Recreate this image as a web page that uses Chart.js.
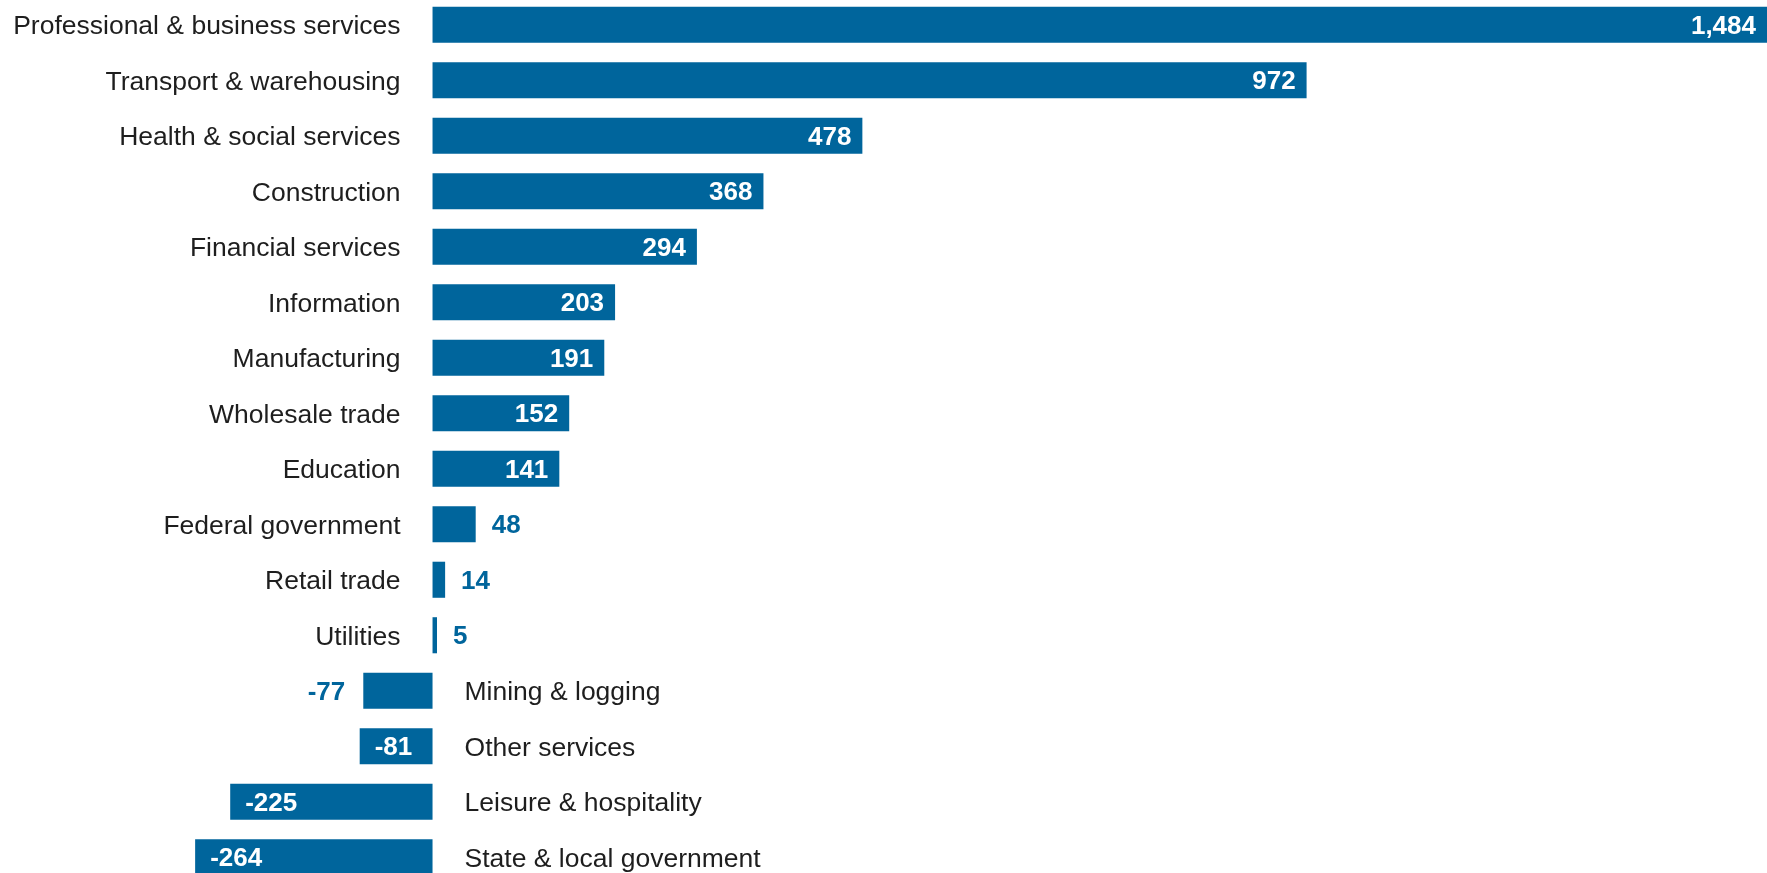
<!DOCTYPE html>
<html>
<head>
<meta charset="utf-8">
<script src="https://cdn.jsdelivr.net/npm/chart.js@4/dist/chart.umd.min.js"></script>
<style>
  html, body { margin: 0; padding: 0; background: #fff; overflow: hidden; }
  #wrap { position: absolute; left: 0; top: -3px; width: 1767px; height: 888px; }
</style>
</head>
<body>
<div id="wrap"><canvas id="jobsChart"></canvas></div>
<script>
const industries = [
  "Professional & business services", "Transport & warehousing", "Health & social services",
  "Construction", "Financial services", "Information", "Manufacturing", "Wholesale trade",
  "Education", "Federal government", "Retail trade", "Utilities", "Mining & logging",
  "Other services", "Leisure & hospitality", "State & local government"
];
const jobChange = [1484, 972, 478, 368, 294, 203, 191, 152, 141, 48, 14, 5, -77, -81, -225, -264];

const BLUE = "#00659c";
const FONT = "'Liberation Sans', Arial, sans-serif";

// names sit beside the zero line, value labels inside or outside the bar end
const barLabels = {
  id: "barLabels",
  afterDatasetsDraw(chart) {
    const ctx = chart.ctx;
    const meta = chart.getDatasetMeta(0);
    const zeroX = chart.scales.x.getPixelForValue(0);
    ctx.save();
    ctx.textBaseline = "middle";
    meta.data.forEach((bar, i) => {
      const v = jobChange[i];
      const y = bar.y + 2;
      // category name
      ctx.font = "26.5px " + FONT;
      ctx.fillStyle = "#1e1e1e";
      if (v >= 0) {
        ctx.textAlign = "right";
        ctx.fillText(industries[i], zeroX - 32, y);
      } else {
        ctx.textAlign = "left";
        ctx.fillText(industries[i], zeroX + 32, y);
      }
      // value
      const txt = v.toLocaleString("en-US");
      const inside = Math.abs(v) >= 80;
      ctx.font = "bold 26px " + FONT;
      ctx.fillStyle = inside ? "#ffffff" : BLUE;
      if (v >= 0) {
        if (inside) { ctx.textAlign = "right"; ctx.fillText(txt, bar.x - 11, y); }
        else { ctx.textAlign = "left"; ctx.fillText(txt, bar.x + 16, y); }
      } else {
        if (inside) { ctx.textAlign = "left"; ctx.fillText(txt, bar.x + 15, y); }
        else { ctx.textAlign = "right"; ctx.fillText(txt, bar.x - 18, y); }
      }
    });
    ctx.restore();
  }
};

new Chart(document.getElementById("jobsChart"), {
  type: "bar",
  data: {
    labels: industries,
    datasets: [{
      data: jobChange,
      backgroundColor: BLUE,
      borderWidth: 0,
      categoryPercentage: 1,
      barPercentage: 0.65
    }]
  },
  options: {
    indexAxis: "y",
    responsive: true,
    maintainAspectRatio: false,
    animation: false,
    layout: { padding: 0 },
    plugins: { legend: { display: false }, tooltip: { enabled: false } },
    scales: {
      x: { display: false, min: -481, max: 1484 },
      y: { display: false, offset: true }
    }
  },
  plugins: [barLabels]
});
</script>
</body>
</html>
